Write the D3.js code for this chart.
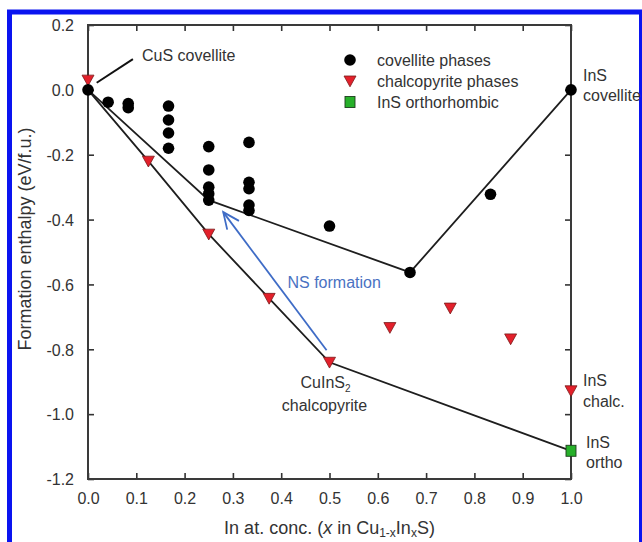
<!DOCTYPE html>
<html>
<head>
<meta charset="utf-8">
<script src="https://cdn.jsdelivr.net/npm/d3@7"></script>
<style>
  html, body { margin: 0; padding: 0; background: #fff; }
  svg { display: block; font-family: "Liberation Sans", Arial, sans-serif; }
</style>
</head>
<body>
<svg id="chart" width="642" height="542"></svg>
<script>
// ---------- data ----------
const xTicks = [0, 0.1, 0.2, 0.3, 0.4, 0.5, 0.6, 0.7, 0.8, 0.9, 1.0];
const yTicks = [0.2, 0.0, -0.2, -0.4, -0.6, -0.8, -1.0, -1.2];

// covellite phases (black circles): [x, formation enthalpy]
const covelliteX = [0, 0.0417, 0.0833, 0.0833, 0.1667, 0.1667, 0.1667, 0.1667,
  0.25, 0.25, 0.25, 0.25, 0.25, 0.3333, 0.3333, 0.3333, 0.3333, 0.3333,
  0.5, 0.6667, 0.8333, 1.0];
const covelliteY = [0, -0.038, -0.042, -0.055, -0.05, -0.093, -0.133, -0.18,
  -0.175, -0.247, -0.30, -0.32, -0.34, -0.162, -0.285, -0.305, -0.355, -0.372,
  -0.42, -0.563, -0.322, 0.0];

// chalcopyrite phases (red triangles)
const chalcoX = [0, 0.125, 0.25, 0.375, 0.5, 0.625, 0.75, 0.875, 1.0];
const chalcoY = [0.03, -0.22, -0.445, -0.643, -0.84, -0.733, -0.673, -0.768, -0.928];

// InS orthorhombic (green square)
const orthoX = [1.0];
const orthoY = [-1.113];

// convex hull lines
const hullCovX = [0, 0.25, 0.6667, 1.0];
const hullCovY = [0, -0.34, -0.563, 0.0];
const hullChalX = [0, 0.125, 0.25, 0.375, 0.5, 1.0];
const hullChalY = [0, -0.22, -0.445, -0.643, -0.84, -1.113];

// NS formation arrow (from -> to), data coordinates
const arrowX = [0.494, 0.28];
const arrowY = [-0.803, -0.377];

// CuS covellite leader line (data coordinates)
const leaderX = [0.093, 0.018];
const leaderY = [0.095, 0.022];

const legendLabels = ["covellite phases", "chalcopyrite phases", "InS orthorhombic"];

// ---------- layout ----------
const svg = d3.select("#chart");
const L = 88, R = 571, T = 25, B = 479;
const x = d3.scaleLinear().domain([0, 1]).range([L, R]);
const y = d3.scaleLinear().domain([-1.2, 0.2]).range([B, T]);

const textColor = "#333";
const fmt = v => d3.format(".1f")(v).replace("−", "-");

// blue outer border
svg.append("rect").attr("x", 9.5).attr("y", 12).attr("width", 632).attr("height", 620)
  .attr("fill", "none").attr("stroke", "#0a14f0").attr("stroke-width", 5);

// axes (inward ticks)
const tickLen = 6;
const gBottom = svg.append("g").attr("transform", `translate(0,${B})`)
  .call(d3.axisBottom(x).tickValues(xTicks).tickSizeInner(-tickLen).tickSizeOuter(0).tickPadding(14).tickFormat(fmt));
const gTop = svg.append("g").attr("transform", `translate(0,${T})`)
  .call(d3.axisTop(x).tickValues(xTicks).tickSizeInner(-tickLen).tickSizeOuter(0).tickFormat(""));
const gLeft = svg.append("g").attr("transform", `translate(${L},0)`)
  .call(d3.axisLeft(y).tickValues(yTicks).tickSizeInner(-tickLen).tickSizeOuter(0).tickPadding(14).tickFormat(fmt));
const gRight = svg.append("g").attr("transform", `translate(${R},0)`)
  .call(d3.axisRight(y).tickValues(yTicks).tickSizeInner(-tickLen).tickSizeOuter(0).tickFormat(""));

[gBottom, gTop, gLeft, gRight].forEach(g => {
  g.select(".domain").remove();
  g.selectAll(".tick line").attr("stroke", "#333").attr("stroke-width", 1.6);
  g.selectAll(".tick text").attr("fill", textColor).style("font-size", "16px")
    .style("font-family", "'Liberation Sans', Arial, sans-serif");
});
gLeft.selectAll(".tick text").attr("dy", "0.36em");

// frame
svg.append("rect").attr("x", L).attr("y", T).attr("width", R - L).attr("height", B - T)
  .attr("fill", "none").attr("stroke", "#3a3a3a").attr("stroke-width", 2);

// axis titles
const xt = svg.append("text").attr("x", (L + R) / 2).attr("y", 534).attr("text-anchor", "middle")
  .attr("fill", textColor).style("font-size", "18px");
xt.append("tspan").text("In at. conc. (");
xt.append("tspan").attr("font-style", "italic").text("x");
xt.append("tspan").text(" in Cu");
xt.append("tspan").attr("font-size", "12px").attr("dy", 3).text("1-x");
xt.append("tspan").attr("dy", -3).text("In");
xt.append("tspan").attr("font-size", "12px").attr("dy", 3).text("x");
xt.append("tspan").attr("dy", -3).text("S)");

svg.append("text").attr("transform", "translate(31,239) rotate(-90)").attr("text-anchor", "middle")
  .attr("fill", textColor).style("font-size", "18px").text("Formation enthalpy (eV/f.u.)");

// hull lines
const line = d3.line().x(d => x(d[0])).y(d => y(d[1]));
svg.append("path").datum(d3.zip(hullCovX, hullCovY)).attr("d", line)
  .attr("fill", "none").attr("stroke", "#1e1e1e").attr("stroke-width", 1.8);
svg.append("path").datum(d3.zip(hullChalX, hullChalY)).attr("d", line)
  .attr("fill", "none").attr("stroke", "#1e1e1e").attr("stroke-width", 1.8);

// leader line
svg.append("path").datum(d3.zip(leaderX, leaderY)).attr("d", line)
  .attr("fill", "none").attr("stroke", "#111").attr("stroke-width", 2);

// NS formation arrow
const blue = "#3f6cc6";
const a0 = [x(arrowX[0]), y(arrowY[0])], a1 = [x(arrowX[1]), y(arrowY[1])];
svg.append("line").attr("x1", a0[0]).attr("y1", a0[1]).attr("x2", a1[0]).attr("y2", a1[1])
  .attr("stroke", blue).attr("stroke-width", 1.8);
const ang = Math.atan2(a0[1] - a1[1], a0[0] - a1[0]);
const hl = 18, ha = 0.42;
const barbs = [ang - ha, ang + ha].map(a => [a1[0] + hl * Math.cos(a), a1[1] + hl * Math.sin(a)]);
svg.append("path")
  .attr("d", `M${barbs[0][0]},${barbs[0][1]} L${a1[0]},${a1[1]} L${barbs[1][0]},${barbs[1][1]}`)
  .attr("fill", "none").attr("stroke", blue).attr("stroke-width", 1.8);

// markers
const triPath = "M-6,-5 L6,-5 L0,5.8 Z";
svg.append("g").selectAll("path").data(d3.zip(chalcoX, chalcoY)).join("path")
  .attr("transform", d => `translate(${x(d[0])},${y(d[1])})`)
  .attr("d", triPath).attr("fill", "#e3202b").attr("stroke", "#7a1a1a").attr("stroke-width", 0.8);

svg.append("g").selectAll("circle").data(d3.zip(covelliteX, covelliteY)).join("circle")
  .attr("cx", d => x(d[0])).attr("cy", d => y(d[1])).attr("r", 5.8).attr("fill", "#000");

svg.append("g").selectAll("rect").data(d3.zip(orthoX, orthoY)).join("rect")
  .attr("x", d => x(d[0]) - 5).attr("y", d => y(d[1]) - 5.5).attr("width", 10).attr("height", 11)
  .attr("fill", "#27b02a").attr("stroke", "#1d3d1d").attr("stroke-width", 0.9);

// text annotations
function label(px, py, txt, opts = {}) {
  return svg.append("text").attr("x", px).attr("y", py).attr("fill", opts.fill || textColor)
    .attr("text-anchor", opts.anchor || "start").style("font-size", (opts.size || 16) + "px").text(txt);
}
label(x(0) + 54, 61, "CuS covellite");
label(x(1) + 12, 81, "InS");
label(x(1) + 12, 101, "covellite");
label(x(1) + 12, 386, "InS");
label(x(1) + 12, 407, "chalc.");
label(x(1) + 15, 448, "InS");
label(x(1) + 15, 468, "ortho");
label(x(0.5) - 42, 288, "NS formation", { fill: "#4a72c2" });

const cis = svg.append("text").attr("x", x(0.5) - 4).attr("y", 388).attr("text-anchor", "middle")
  .attr("fill", textColor).style("font-size", "16px");
cis.append("tspan").text("CuInS");
cis.append("tspan").attr("font-size", "10px").attr("dy", 4).text("2");
label(x(0.5) - 5, 411, "chalcopyrite", { anchor: "middle" });

// legend
const lgX = 350, lgY = [60, 81, 102];
svg.append("circle").attr("cx", lgX).attr("cy", lgY[0]).attr("r", 5.8).attr("fill", "#000");
svg.append("path").attr("transform", `translate(${lgX},${lgY[1]})`).attr("d", triPath)
  .attr("fill", "#e3202b").attr("stroke", "#7a1a1a").attr("stroke-width", 0.8);
svg.append("rect").attr("x", lgX - 5).attr("y", lgY[2] - 5.5).attr("width", 10).attr("height", 11)
  .attr("fill", "#27b02a").attr("stroke", "#1d3d1d").attr("stroke-width", 0.9);
legendLabels.forEach((t, i) => label(lgX + 27, lgY[i] + 5.5, t, { size: 16 }));
</script>
</body>
</html>
